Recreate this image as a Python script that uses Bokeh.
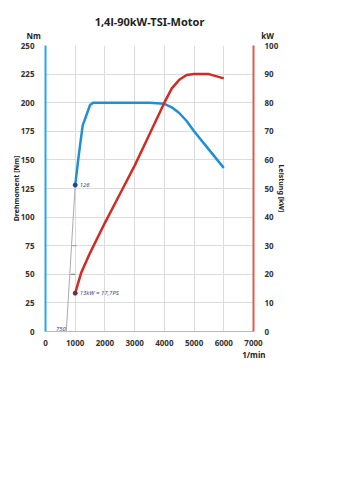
from bokeh.plotting import figure
from bokeh.models import Range1d, LinearAxis, Label, FixedTicker, Title
from bokeh.embed import file_html
from bokeh.resources import INLINE

# Data
rpm_torque = [1000, 1100, 1250, 1500, 1600, 2000, 3000, 3500, 4000, 4250, 4500, 4750, 5000, 5500, 6000]
torque_nm = [128, 150, 180, 198, 200, 200, 200, 200, 199, 196, 191, 184, 175, 159, 143]

rpm_power = [1000, 1100, 1200, 1500, 2000, 2500, 3000, 3500, 4000, 4250, 4500, 4750, 5000, 5500, 6000]
power_kw = [13.4, 17, 20.5, 27.5, 38, 48, 58, 69, 80, 85, 88, 89.7, 90, 90, 88.5]

pen_rpm = [700, 1000]
pen_nm = [0, 128]

x_ticks = [0, 1000, 2000, 3000, 4000, 5000, 6000, 7000]
nm_ticks = [0, 25, 50, 75, 100, 125, 150, 175, 200, 225, 250]
kw_ticks = [0, 10, 20, 30, 40, 50, 60, 70, 80, 90, 100]

FONT = "Noto Sans"
BLUE = "#1f8fd6"
RED = "#d42a24"
NBSP = "\u00a0"

p = figure(width=353, height=500, output_backend="svg", toolbar_location=None,
           x_range=Range1d(0, 7000), y_range=Range1d(0, 250), title=None,
           min_border_left=45, min_border_right=100, min_border_top=45, min_border_bottom=169)
p.extra_y_ranges = {"kw": Range1d(0, 100)}
p.outline_line_color = None
p.background_fill_color = "white"
p.border_fill_color = "white"

# units row (closest to the frame) and main title
units = Title(text="Nm" + NBSP * 106 + "kW", align="left", offset=-19, standoff=9,
              text_font=FONT, text_font_size="8px", text_font_style="bold", text_color="#222222")
p.add_layout(units, "above")
main = Title(text="1,4l-90kW-TSI-Motor", align="center", standoff=-10,
             text_font=FONT, text_font_size="11px", text_font_style="bold", text_color="#222222")
p.add_layout(main, "above")
rpm_unit = Title(text="1/min", align="right", offset=-12, standoff=-3,
                 text_font=FONT, text_font_size="8px", text_font_style="bold", text_color="#222222")
p.add_layout(rpm_unit, "below")

# grids
p.xgrid.ticker = FixedTicker(ticks=x_ticks)
p.ygrid.ticker = FixedTicker(ticks=nm_ticks)
p.xgrid.grid_line_color = "#dcdcdc"
p.ygrid.grid_line_color = "#dcdcdc"

def style_ticks(ax):
    ax.major_tick_line_color = None
    ax.minor_tick_line_color = None
    ax.major_label_text_font = FONT
    ax.major_label_text_font_size = "8px"
    ax.major_label_text_font_style = "bold"
    ax.major_label_text_color = "#333333"

def style_label(ax, standoff):
    ax.axis_label_text_font = FONT
    ax.axis_label_text_font_size = "7px"
    ax.axis_label_text_font_style = "bold"
    ax.axis_label_text_color = "#222222"
    ax.axis_label_standoff = standoff

xa = p.xaxis[0]
xa.ticker = FixedTicker(ticks=x_ticks)
xa.axis_line_color = "#bbbbbb"
style_ticks(xa)
xa.major_label_standoff = 2

ya = p.yaxis[0]
ya.ticker = FixedTicker(ticks=nm_ticks)
ya.axis_line_color = "#2aa6e6"
ya.axis_line_width = 2
style_ticks(ya)
ya.major_label_standoff = 5
ya.axis_label = "Drehmoment [Nm]"
style_label(ya, -3)

ra = LinearAxis(y_range_name="kw", ticker=FixedTicker(ticks=kw_ticks))
ra.axis_line_color = "#e05a55"
ra.axis_line_width = 2
style_ticks(ra)
ra.major_label_standoff = 5
ra.axis_label = "Leistung [kW]"
style_label(ra, -4)
p.add_layout(ra, "right")

# hand-drawn pen line
p.line(pen_rpm, pen_nm, line_color="#aaaaaa", line_width=1)
p.line([900, 1050], [75, 75], line_color="#999999", line_width=1)
p.line([850, 1000], [50, 50], line_color="#777777", line_width=1)

# curves
p.line(rpm_torque, torque_nm, line_color=BLUE, line_width=2.5)
p.line(rpm_power, power_kw, y_range_name="kw", line_color=RED, line_width=2.5)

p.scatter([rpm_torque[0]], [torque_nm[0]], size=4, color="#2c3e8c")
p.scatter([rpm_power[0]], [power_kw[0]], y_range_name="kw", size=4, color="#6a2c5c")

for txt, x, y, rng in [("126", 1150, 128, "default"), ("13kW = 17,7PS", 1150, 13.4, "kw"), ("750", 350, 2, "default")]:
    lab = Label(x=x, y=y, text=txt, text_font=FONT, text_font_size="6px", text_font_style="italic",
                text_color="#3a3f8a", text_baseline="middle", y_range_name=rng)
    p.add_layout(lab)

open("out.html", "w").write(file_html(p, INLINE))
